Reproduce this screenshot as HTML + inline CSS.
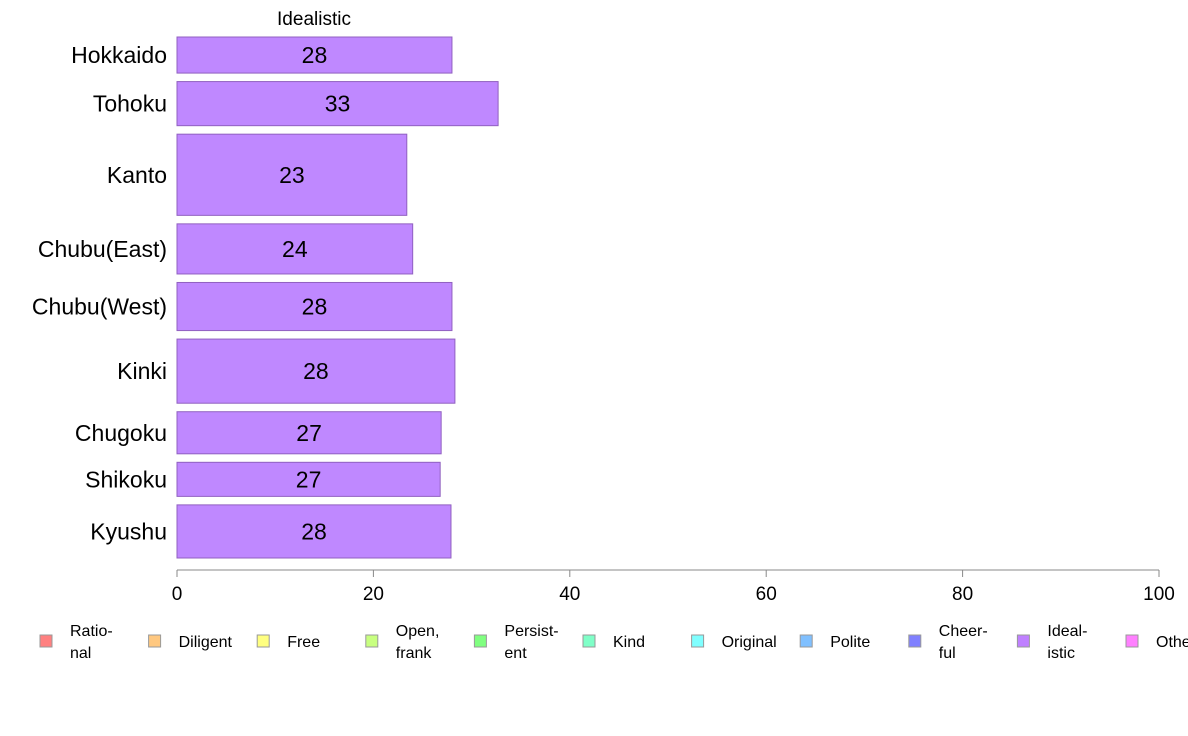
<!DOCTYPE html>
<html><head><meta charset="utf-8"><style>
body{margin:0;background:#fff}
svg{display:block;font-family:"Liberation Sans",Arial,sans-serif}
</style></head><body>
<svg id="chart" width="1188" height="736" viewBox="0 0 1188 736">
<text x="314" y="25" font-size="19" text-anchor="middle">Idealistic</text>
<g id="bars"></g>
<g id="axis"></g>
<g id="legend"></g>
</svg>
<script>
const regions=["Hokkaido","Tohoku","Kanto","Chubu(East)","Chubu(West)","Kinki","Chugoku","Shikoku","Kyushu"];
const values=[28,32.7,23.4,24,28,28.3,26.9,26.8,27.9];
const labels=["28","33","23","24","28","28","27","27","28"];
const weights=[36,44,81,50,48,64,42,34,53];
const ticks=[0,20,40,60,80,100];
const legendNames=[["Ratio-","nal"],["Diligent"],["Free"],["Open,","frank"],["Persist-","ent"],["Kind"],["Original"],["Polite"],["Cheer-","ful"],["Ideal-","istic"],["Other"]];
const legendColors=["#ff8080","#ffc880","#ffff80","#c8ff80","#80ff80","#80ffc8","#80ffff","#80c0ff","#8080ff","#bf80ff","#ff80ff"];
const NS="http://www.w3.org/2000/svg";
const x0=177,x1=1159,yTop=37,yBot=558,gap=8.5;
const xs=v=>x0+(v/100)*(x1-x0);
function mk(t,a,p){const e=document.createElementNS(NS,t);for(const k in a)e.setAttribute(k,a[k]);p.appendChild(e);return e;}
const bars=document.getElementById('bars');
const totalW=weights.reduce((a,b)=>a+b,0);
const avail=(yBot-yTop)-gap*(weights.length-1);
let y=yTop;
regions.forEach((r,i)=>{
  const h=weights[i]/totalW*avail;
  const b=mk('rect',{x:x0,y:y,width:xs(values[i])-x0,height:h,fill:"#bf88ff",stroke:"#9060c0","stroke-width":1},bars);
  
  
  const t=mk('text',{x:(x0+xs(values[i]))/2,y:y+h/2+8,"font-size":23,"text-anchor":"middle"},bars);
  t.textContent=labels[i];
  
  
  const c=mk('text',{x:167,y:y+h/2+8,"font-size":23,"text-anchor":"end"},bars);
  c.textContent=r;
  
  
  y+=h+gap;
});
const ax=document.getElementById('axis');
const l=mk('line',{x1:x0,x2:x1,y1:570,y2:570,stroke:"#888"},ax);


ticks.forEach(t=>{
  const tk=mk('line',{x1:xs(t),x2:xs(t),y1:570,y2:577,stroke:"#888"},ax);
  
  
  const tx=mk('text',{x:xs(t),y:600,"font-size":19,"text-anchor":"middle"},ax);
  tx.textContent=t;
  
  
});
const lg=document.getElementById('legend');
legendNames.forEach((n,i)=>{
  const lx=40+i*108.6;
  const g=mk('g',{},lg);
  
  
  mk('rect',{x:lx,y:635,width:12,height:12,fill:legendColors[i],stroke:"#999","stroke-width":1},g);
  if(n.length===1){const t=mk('text',{x:lx+30,y:647,"font-size":16},g);t.textContent=n[0];}
  else{
    const t1=mk('text',{x:lx+30,y:636,"font-size":16},g);t1.textContent=n[0];
    const t2=mk('text',{x:lx+30,y:658,"font-size":16},g);t2.textContent=n[1];
  }
});
</script>
</body></html>
